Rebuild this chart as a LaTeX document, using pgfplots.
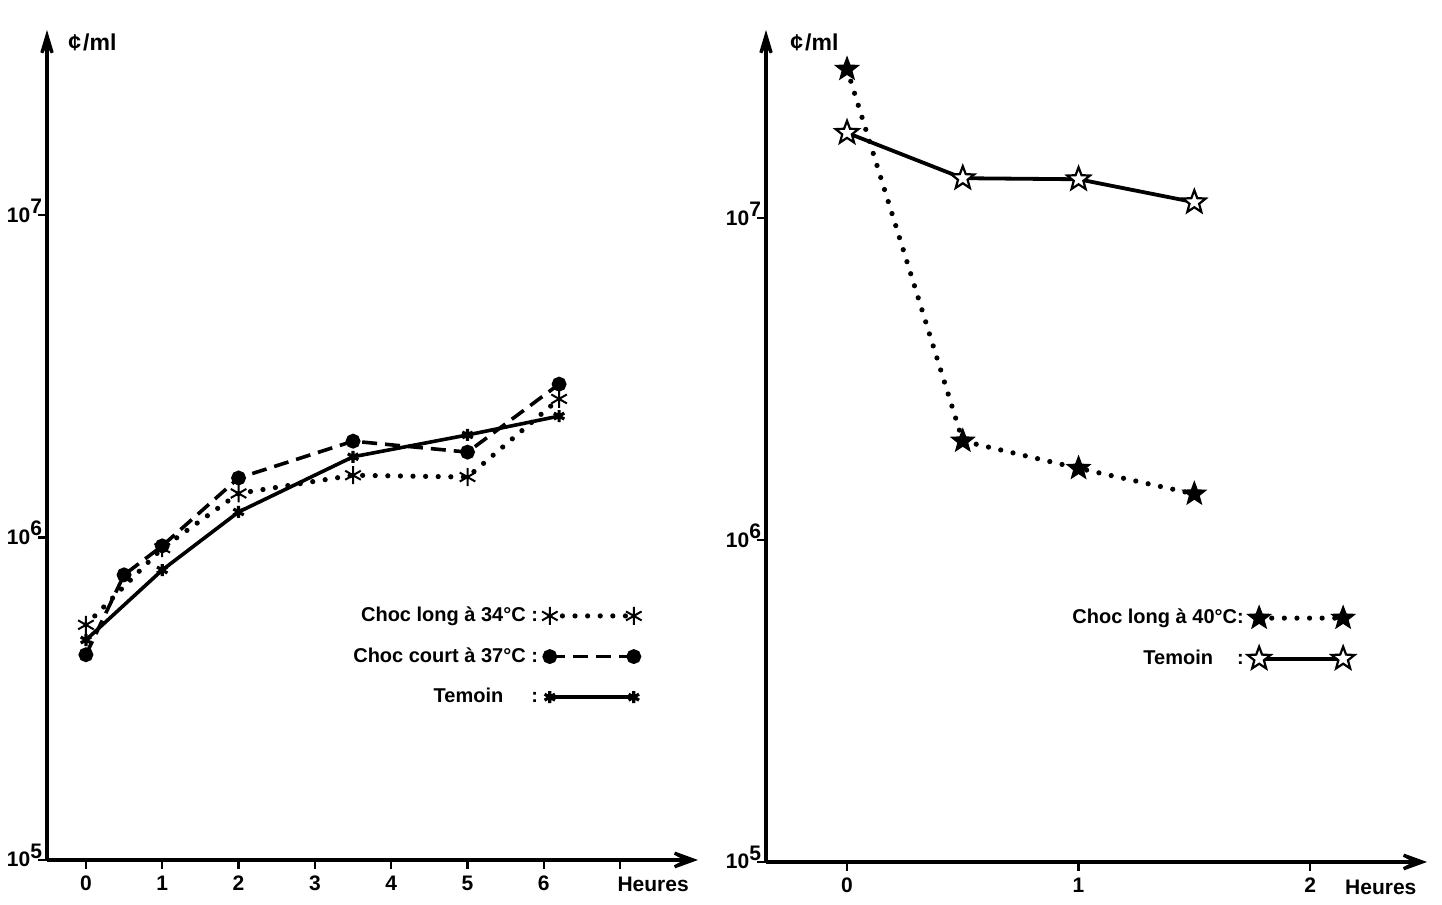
\documentclass[border=0pt]{standalone}
\usepackage{pgfplots}
\pgfplotsset{compat=1.18}
\usepackage{fontspec}
\setmainfont{Liberation Sans}
\usetikzlibrary{arrows.meta}

\pgfdeclareplotmark{starmk}{%
\pgfpathmoveto{\pgfpointpolar{90}{\pgfplotmarksize}}%
\pgfpathlineto{\pgfpointpolar{126}{0.42\pgfplotmarksize}}%
\pgfpathlineto{\pgfpointpolar{162}{\pgfplotmarksize}}%
\pgfpathlineto{\pgfpointpolar{198}{0.42\pgfplotmarksize}}%
\pgfpathlineto{\pgfpointpolar{234}{\pgfplotmarksize}}%
\pgfpathlineto{\pgfpointpolar{270}{0.42\pgfplotmarksize}}%
\pgfpathlineto{\pgfpointpolar{306}{\pgfplotmarksize}}%
\pgfpathlineto{\pgfpointpolar{342}{0.42\pgfplotmarksize}}%
\pgfpathlineto{\pgfpointpolar{18}{\pgfplotmarksize}}%
\pgfpathlineto{\pgfpointpolar{54}{0.42\pgfplotmarksize}}%
\pgfpathclose
\pgfusepathqfillstroke}

\tikzset{dotl/.style={black, line width=2.6pt, line cap=round, dash pattern=on 0pt off 6.3pt}}

\pgfplotsset{
  every non boxed x axis/.append style={
    x axis line style={-{Stealth[length=22pt,width=16pt,inset=15pt]}},
    xtick align=outside},
  every non boxed y axis/.append style={
    y axis line style={-{Stealth[length=20pt,width=12pt,inset=12pt]}},
    ytick align=outside},
}

\begin{document}
\begin{tikzpicture}
\useasboundingbox (0,0) rectangle (721pt,452.5pt);
% Left panel
\begin{axis}[at={(23.5pt,22.5pt)}, anchor=south west,
  scale only axis, axis lines=left, ymode=log, ymin=1e5, ymax=3.75e7,
  width=325.5pt, height=415pt,
  xmin=-0.51, xmax=8.02,
  axis line style={line width=1.6pt},
  major tick length=4.5pt, tick style={line width=1.2pt, black},
  yminorticks=false, xminorticks=false,
  ytick={1e5,1e6,1e7},
  yticklabels={10\raisebox{0.8ex}{5},10\raisebox{0.8ex}{6},10\raisebox{0.8ex}{7}},
  yticklabel style={anchor=base east, yshift=-3.5pt, xshift=5.5pt},
  ticklabel style={font=\fontsize{10.5}{12}\selectfont\bfseries},
  xtick={0,1,2,3,4,5,6,7}, xticklabels={0,1,2,3,4,5,6,{}},
  clip=false,
  legend style={draw=none, fill=none, anchor=north east, at={(0.914,0.31)},
    font=\fontsize{10}{11.5}\selectfont\bfseries, row sep=7.5pt, inner sep=0pt},
  legend plot pos=right, legend cell align=right,
  legend image code/.code={\draw[#1] plot coordinates {(0pt,0pt) (42pt,0pt)};}]
\addplot[dotl, mark=asterisk, mark size=4.5pt, mark options={solid, line width=1pt, line cap=butt}]
  coordinates {(0,5.36e5) (1,9.27e5) (2,1.37e6) (3.5,1.56e6) (5,1.54e6) (6.2,2.69e6)};
\addlegendentry{Choc long à 34°C :}
\addplot[black, line width=1.8pt, dash pattern=on 7.5pt off 4pt, mark=*, mark size=2.8pt, mark options={solid}]
  coordinates {(0,4.33e5) (0.5,7.66e5) (1,9.42e5) (2,1.53e6) (3.5,1.99e6) (5,1.84e6) (6.2,2.99e6)};
\addlegendentry{Choc court à 37°C :}
\addplot[black, line width=1.8pt, mark=asterisk, mark size=3pt, mark options={solid, line width=1.6pt}]
  coordinates {(0,4.81e5) (1,7.93e5) (2,1.20e6) (3.5,1.78e6) (5,2.08e6) (6.2,2.38e6)};
\addlegendentry{Temoin\hspace{1.4em}:}
\node[anchor=north west, inner sep=0pt, font=\fontsize{10.5}{12}\selectfont\bfseries]
  at (axis cs:6.96,1e5) [yshift=-8.5pt] {Heures};
\node[anchor=west, inner sep=0pt, font=\fontsize{11.5}{13}\selectfont\bfseries]
  at (rel axis cs:0,1) [xshift=10.5pt, yshift=-6pt] {¢\kern1pt/ml};
\end{axis}
% Right panel
\begin{axis}[at={(383pt,21.5pt)}, anchor=south west,
  scale only axis, axis lines=left, ymode=log, ymin=1e5, ymax=3.84e7,
  width=330.5pt, height=416pt,
  xmin=-0.35, xmax=2.505,
  axis line style={line width=1.6pt},
  major tick length=4.5pt, tick style={line width=1.2pt, black},
  yminorticks=false, xminorticks=false,
  ytick={1e5,1e6,1e7},
  yticklabels={10\raisebox{0.8ex}{5},10\raisebox{0.8ex}{6},10\raisebox{0.8ex}{7}},
  yticklabel style={anchor=base east, yshift=-3.5pt, xshift=5.5pt},
  ticklabel style={font=\fontsize{10.5}{12}\selectfont\bfseries},
  xtick={0,1,2}, xticklabels={0,1,2},
  clip=false,
  legend style={draw=none, fill=none, anchor=north east, at={(0.891,0.309)},
    font=\fontsize{10}{11.5}\selectfont\bfseries, row sep=7.5pt, inner sep=0pt},
  legend plot pos=right, legend cell align=right,
  legend image code/.code={\draw[#1] plot coordinates {(0pt,0pt) (42pt,0pt)};}]
\addplot[dotl, mark=starmk, mark size=6pt, mark options={solid, fill=black, line width=0.6pt}]
  coordinates {(0,2.90e7) (0.5,2.03e6) (1,1.67e6) (1.5,1.39e6)};
\addlegendentry{Choc long à 40°C:}
\addplot[black, line width=1.9pt, mark=starmk, mark size=6pt, mark options={solid, fill=white, line width=1.1pt}]
  coordinates {(0,1.84e7) (0.5,1.33e7) (1,1.32e7) (1.5,1.12e7)};
\addlegendentry{Temoin\hspace{1.2em}:}
\node[anchor=north west, inner sep=0pt, font=\fontsize{10.5}{12}\selectfont\bfseries]
  at (axis cs:2.15,1e5) [yshift=-9pt] {Heures};
\node[anchor=west, inner sep=0pt, font=\fontsize{11.5}{13}\selectfont\bfseries]
  at (rel axis cs:0,1) [xshift=12pt, yshift=-6pt] {¢\kern1pt/ml};
\end{axis}
\end{tikzpicture}
\end{document}
